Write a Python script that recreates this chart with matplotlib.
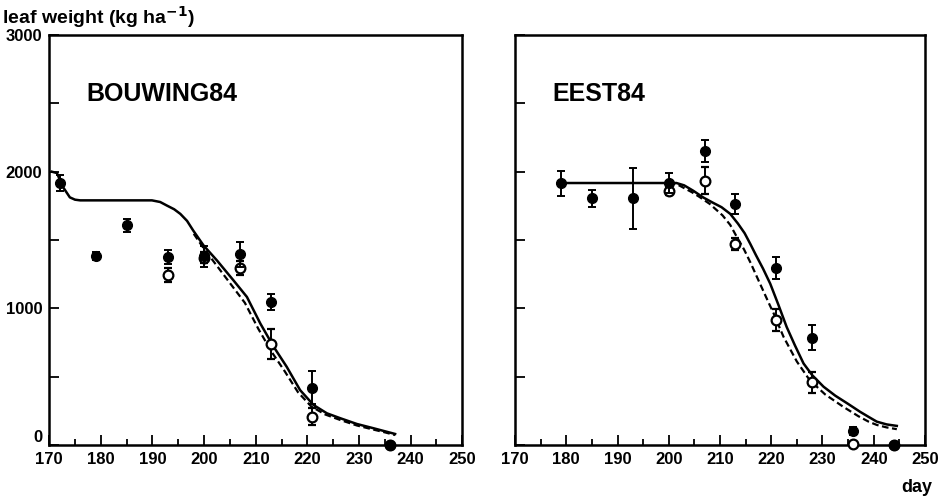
import numpy as np
import matplotlib.pyplot as plt
from matplotlib.ticker import MultipleLocator

plt.rcParams['font.family'] = ['Liberation Sans', 'DejaVu Sans']
plt.rcParams['font.weight'] = 'bold'

# BOUWING84 observations (day, filled = measured, open = corrected)
bw_day_f = [172, 179, 185, 193, 200, 207, 213, 221, 236]
bw_f = [1915, 1385, 1606, 1375, 1380, 1394, 1044, 419, 0]
bw_f_err = [60, 30, 45, 50, 75, 90, 60, 120, 0]
bw_day_o = [193, 200, 207, 213, 221, 236]
bw_o = [1243, 1370, 1297, 737, 207, 0]
bw_o_err = [50, 40, 50, 110, 65, 0]

# BOUWING84 simulated
bw_sim_day = [170.5, 171.5, 172.7, 174, 175, 176, 180, 186, 189.9, 191.5, 192.8, 194.2, 195.4,
              196.7, 197.9, 199.9, 202.5, 205.7, 208.3, 210.9, 213.5, 216, 218.6, 221.2,
              223.8, 226.4, 229.6, 232.8, 235, 237]
bw_sim = [2000, 1990, 1886, 1812, 1795, 1790, 1790, 1790, 1790, 1778, 1752, 1725, 1691,
          1640, 1569, 1460, 1350, 1204, 1083, 888, 717, 572, 401, 292,
          231, 195, 153, 122, 100, 80]
bw_sim2_day = [198, 199.9, 202.3, 205.3, 207.9, 210.5, 213.1, 215.6, 218.2, 220.8, 223.5,
               226.4, 229.6, 232.8, 235, 237]
bw_sim2 = [1545, 1440, 1320, 1170, 1040, 850, 680, 540, 385, 280, 222, 182, 142, 112, 92, 72]

# EEST84 observations
ee_day_f = [179, 185, 193, 200, 207, 213, 221, 228, 236, 244]
ee_f = [1915, 1805, 1805, 1917, 2153, 1764, 1294, 786, 102, 0]
ee_f_err = [90, 60, 225, 70, 80, 75, 80, 90, 30, 0]
ee_day_o = [200, 207, 213, 221, 228, 236, 244]
ee_o = [1861, 1934, 1472, 917, 457, 7, 0]
ee_o_err = [30, 100, 45, 80, 80, 0, 0]

# EEST84 simulated
ee_sim_day = [179, 185, 190, 195, 200, 201.5, 203, 204.8, 206.7, 208.5, 210.3, 212, 213.5,
              214.8, 215.9, 217, 218.4, 219.8, 221.4, 223, 224.6, 226.3, 228, 230.2, 232.5,
              235, 237.3, 239, 240.6, 242.5, 244.5]
ee_sim = [1917, 1917, 1917, 1917, 1917, 1917, 1900, 1860, 1812, 1775, 1740, 1691, 1620,
          1550, 1472, 1390, 1290, 1180, 1025, 864, 730, 596, 510, 426, 360,
          300, 243, 205, 170, 150, 139]
ee_sim2_day = [200, 201.5, 203, 204.5, 206, 208, 210.5, 212, 213.3, 214.7, 216, 217.2,
               218.4, 219.5, 220.5, 221.5, 222.4, 223.7, 225, 227.5, 230.5, 234, 237,
               239, 240.6, 242.5, 244.5]
ee_sim2 = [1917, 1910, 1880, 1850, 1815, 1764, 1680, 1610, 1521, 1430, 1330, 1230,
           1131, 1040, 960, 870, 791, 700, 610, 474, 370, 280, 210, 170, 146, 128, 115]

xticks = np.arange(170, 251, 10)
yticks = [0, 1000, 2000, 3000]

fig = plt.figure(figsize=(9.46, 5.01), dpi=100)
ax1 = fig.add_axes([0.052, 0.112, 0.4366, 0.818])
ax2 = fig.add_axes([0.5444, 0.112, 0.4334, 0.818])


def panel(ax, name, d_f, f, fe, d_o, o, oe, sd, s, sd2, s2):
    ax.plot(sd, s, color='black', lw=1.8, zorder=2)
    ax.plot(sd2, s2, color='black', lw=1.6, ls=(0, (3, 1.6)), zorder=2)
    eb1 = ax.errorbar(d_o, o, yerr=oe, fmt='o', ms=7, mfc='white', mec='black', mew=1.6,
                      ecolor='black', elinewidth=1.4, capsize=3, capthick=1.4, zorder=3)
    eb2 = ax.errorbar(d_f, f, yerr=fe, fmt='o', ms=7, mfc='black', mec='black',
                      ecolor='black', elinewidth=1.4, capsize=3, capthick=1.4, zorder=4)
    # points at zero sit on the axis and are drawn whole
    eb1[0].set_clip_on(False)
    eb2[0].set_clip_on(False)
    ax.set_xlim(170, 250)
    ax.set_ylim(0, 3000)
    ax.set_xticks(xticks)
    ax.xaxis.set_minor_locator(MultipleLocator(5))
    ax.set_yticks(yticks)
    ax.yaxis.set_minor_locator(MultipleLocator(500))
    ax.tick_params(direction='in', which='major', length=7, width=1.3, labelsize=12)
    ax.tick_params(direction='in', which='minor', length=4, width=1.3)
    ax.tick_params(axis='y', which='minor', length=7)
    ax.tick_params(axis='y', pad=5)
    ax.tick_params(axis='x', pad=5)
    for sp in ax.spines.values():
        sp.set_linewidth(1.8)
    ax.text(0.09, 0.84, name, transform=ax.transAxes, fontsize=18, fontweight='bold')


panel(ax1, 'BOUWING84', bw_day_f, bw_f, bw_f_err, bw_day_o, bw_o, bw_o_err,
      bw_sim_day, bw_sim, bw_sim2_day, bw_sim2)
panel(ax2, 'EEST84', ee_day_f, ee_f, ee_f_err, ee_day_o, ee_o, ee_o_err,
      ee_sim_day, ee_sim, ee_sim2_day, ee_sim2)
ax2.set_yticklabels([])

# the "0" sits just above the x tick labels
fig.canvas.draw()
ax1.get_yticklabels()[0].set_va('bottom')

fig.text(0.002, 0.952, 'leaf weight (kg ha$^{\\mathbf{-1}}$)', fontsize=14, fontweight='bold')
fig.text(0.985, 0.018, 'day', fontsize=13, fontweight='bold', ha='right')

fig.savefig('out.png', dpi=100)
